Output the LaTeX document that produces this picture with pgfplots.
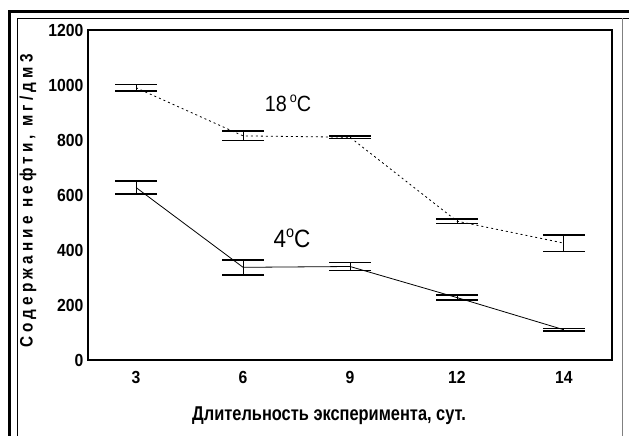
\documentclass[border=0pt]{standalone}
\usepackage{fontspec}
\setmainfont{Liberation Sans}
\newfontfamily\nar[FakeStretch=0.82]{Liberation Sans}
\newfontfamily\nbr[FakeStretch=0.9]{Liberation Sans}
\newfontfamily\spc[FakeStretch=0.85, LetterSpace=23]{Liberation Sans}
\usepackage{pgfplots}
\pgfplotsset{compat=1.18}
\pgfplotstableread{
x y e
0 990 12
1 815 17
2 810 5
3 505 8
4 425 30
}\warm
\pgfplotstableread{
x y e
0 627 24
1 337 27
2 340 15
3 227 9
4 110 4
}\cold
\begin{document}
\begin{tikzpicture}[x=1pt,y=1pt]
\path[use as bounding box] (-88,-76) rectangle (541,360);
\draw[line width=3pt] (-78,-80) -- (-78,348) -- (545,348);
\draw[line width=0.8pt] (-71,-80) -- (-71,342) -- (545,342);
\draw[line width=0.8pt, gray] (534,342) -- (534,-80);
\begin{axis}[at={(0,0)}, anchor=south west, scale only axis,
  width=524pt, height=330pt,
  xmin=-0.45, xmax=4.45, ymin=0, ymax=1200,
  xtick={0,1,2,3,4}, xticklabels={3,6,9,12,14},
  ytick={0,200,400,600,800,1000,1200},
  major tick length=0pt,
  axis line style={line width=1.3pt},
  tick label style={font=\nbr\bfseries\fontsize{17.5}{17.5}\selectfont},
  /pgf/number format/assume math mode=true,
  yticklabel style={/pgf/number format/1000 sep={}, xshift=-1pt},
  xticklabel style={yshift=-7pt, text height=12.5pt, text depth=0pt, anchor=north},
  clip=false]
\addplot[black, line width=0.8pt, dash pattern=on 2pt off 3pt,
  error bars/.cd, y dir=both, y explicit, error mark=|,
  error mark options={line width=1.6pt, mark size=21pt, black, solid},
  error bar style={line width=0.8pt, solid}]
  table[x=x, y=y, y error=e] {\warm};
\addplot[black, line width=0.8pt,
  error bars/.cd, y dir=both, y explicit, error mark=|,
  error mark options={line width=1.6pt, mark size=21pt, black, solid},
  error bar style={line width=0.8pt, solid}]
  table[x=x, y=y, y error=e] {\cold};
\end{axis}
\node[font=\nbr\fontsize{22}{22}\selectfont] at (200,257) {18\kern3pt\raisebox{0.75ex}{\fontsize{14}{14}\selectfont o}C};
\node[font=\nbr\fontsize{25}{25}\selectfont] at (204,122) {4\raisebox{0.75ex}{\fontsize{16}{16}\selectfont o}C};
\node[rotate=90, font=\spc\bfseries\fontsize{18}{18}\selectfont] at (-60,159) {Содержание нефти, мг/дм3};
\node[font=\nar\bfseries\fontsize{20}{20}\selectfont] at (241,-56) {Длительность эксперимента, сут.};
\end{tikzpicture}
\end{document}
